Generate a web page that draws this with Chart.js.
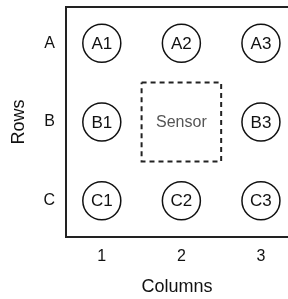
<!DOCTYPE html>
<html>
<head>
<meta charset="utf-8">
<script src="https://cdn.jsdelivr.net/npm/chart.js@4"></script>
<style>
  html, body { margin: 0; padding: 0; background: #fff; overflow: hidden; }
  canvas { display: block; }
</style>
</head>
<body>
<canvas id="myChart" width="288" height="299"></canvas>
<script>
const colLabels = ["1", "2", "3"];
const rowLabels = ["A", "B", "C"]; // top to bottom
const sensorNames = ["A1", "A2", "A3", "B1", "B3", "C1", "C2", "C3"];
const sensorX = [1, 2, 3, 1, 3, 1, 2, 3];
const sensorY = [3, 3, 3, 2, 2, 1, 1, 1];
const boxX = [1.5, 2.5, 2.5, 1.5, 1.5];
const boxY = [2.5, 2.5, 1.5, 1.5, 2.5];
const boxLabel = "Sensor";

const FONT = "'Liberation Sans', Arial, Helvetica, sans-serif";

// circle names, sensor text and the top edge of the frame
const annotate = {
  id: "annotate",
  afterDatasetsDraw(chart) {
    const ctx = chart.ctx;
    const { x, y } = chart.scales;
    ctx.save();
    ctx.textAlign = "center";
    ctx.textBaseline = "middle";
    ctx.font = "17px " + FONT;
    ctx.fillStyle = "#111";
    chart.getDatasetMeta(0).data.forEach((pt, i) => {
      ctx.fillText(sensorNames[i], pt.x, pt.y + 1);
    });
    ctx.font = "16px " + FONT;
    ctx.fillStyle = "#555";
    ctx.fillText(boxLabel, x.getPixelForValue(2), y.getPixelForValue(2) + 1);
    const a = chart.chartArea;
    ctx.strokeStyle = "#222";
    ctx.lineWidth = 2;
    ctx.beginPath();
    ctx.moveTo(a.left, a.top);
    ctx.lineTo(a.right, a.top);
    ctx.stroke();
    ctx.restore();
  },
};

const ctx = document.getElementById("myChart").getContext("2d");
new Chart(ctx, {
  type: "scatter",
  data: {
    datasets: [
      {
        data: sensorX.map((v, i) => ({ x: v, y: sensorY[i] })),
        pointRadius: 19,
        pointBorderWidth: 1.5,
        pointBorderColor: "#111",
        pointBackgroundColor: "#fff",
        showLine: false,
      },
      {
        data: boxX.map((v, i) => ({ x: v, y: boxY[i] })),
        showLine: true,
        borderColor: "#222",
        borderWidth: 2,
        borderDash: [5, 4],
        pointRadius: 0,
        fill: false,
      },
    ],
  },
  options: {
    responsive: false,
    animation: false,
    events: [],
    layout: { autoPadding: false, padding: { top: 7, left: 0, right: 0, bottom: 0 } },
    plugins: { legend: { display: false }, tooltip: { enabled: false } },
    scales: {
      x: {
        type: "linear",
        min: 0.55,
        max: 3.34,
        afterBuildTicks: (s) => { s.ticks = colLabels.map((_, i) => ({ value: i + 1 })); },
        afterFit: (s) => { s.height = 62; s.paddingLeft = 0; s.paddingRight = 0; },
        ticks: {
          callback: (v) => colLabels[v - 1],
          color: "#111",
          font: { family: FONT, size: 16 },
          padding: 10,
          maxRotation: 0,
        },
        grid: { display: false, drawTicks: false },
        border: { display: true, color: "#222", width: 2 },
        title: {
          display: true,
          text: "Columns",
          color: "#111",
          font: { family: FONT, size: 18 },
          padding: { top: 0, bottom: 1 },
        },
      },
      y: {
        type: "linear",
        min: 0.54,
        max: 3.46,
        afterBuildTicks: (s) => { s.ticks = rowLabels.map((_, i) => ({ value: i + 1 })); },
        afterFit: (s) => { s.width = 66; s.paddingTop = 0; s.paddingBottom = 0; },
        ticks: {
          callback: (v) => rowLabels[3 - v],
          color: "#111",
          font: { family: FONT, size: 16 },
          padding: 11,
        },
        grid: { display: false, drawTicks: false },
        border: { display: true, color: "#222", width: 2 },
        title: {
          display: true,
          text: "Rows",
          color: "#111",
          font: { family: FONT, size: 18 },
          padding: { top: 8, bottom: 0 },
        },
      },
    },
  },
  plugins: [annotate],
});
</script>
</body>
</html>
